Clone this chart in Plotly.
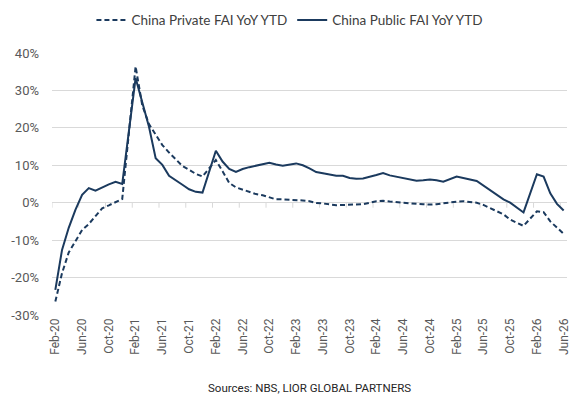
import pandas as pd
import plotly.graph_objects as go

# ---- data -------------------------------------------------------------
months = pd.date_range("2020-02-01", "2026-06-01", freq="MS").strftime("%b-%y").tolist()

private_fai = [
    -26.4, -18.8, -13.3, -10.2, -7.3, -5.7, -3.7, -1.5, -0.7, 0.2, 1.0,   # Feb-Dec 20
    None,
    36.4, 26.0, 21.0, 18.1, 15.4, 13.4, 11.5, 9.8, 8.8, 7.7, 7.0,          # 21
    None,
    11.4, 8.4, 5.3, 4.1, 3.5, 2.7, 2.3, 2.0, 1.4, 0.9, 0.9,                # 22
    None,
    0.8, 0.6, 0.4, -0.1, -0.2, -0.5, -0.7, -0.6, -0.5, -0.5, -0.4,         # 23
    None,
    0.4, 0.5, 0.3, 0.1, -0.1, -0.2, -0.3, -0.4, -0.5, -0.4, -0.1,         # 24
    None,
    0.3, 0.4, 0.2, 0.0, -0.6, -1.5, -2.3, -3.1, -4.5, -5.3, -6.2,         # 25
    None,
    -2.3, -2.5, -5.0, -6.7, -8.3,                                          # Feb-Jun 26
]

public_fai = [
    -23.3, -12.6, -6.7, -1.9, 2.1, 3.9, 3.2, 4.1, 4.9, 5.6, 5.0,
    None,
    33.3, 26.5, 20.3, 11.9, 10.1, 7.2, 6.1, 4.8, 3.6, 2.9, 2.7,
    None,
    13.9, 11.0, 9.0, 8.2, 9.0, 9.5, 9.9, 10.3, 10.7, 10.2, 9.9,
    None,
    10.5, 10.0, 9.2, 8.2, 7.9, 7.5, 7.2, 7.2, 6.6, 6.4, 6.5,
    None,
    7.4, 7.9, 7.3, 6.9, 6.6, 6.2, 5.9, 6.0, 6.2, 6.0, 5.6,
    None,
    7.0, 6.5, 6.2, 5.8, 4.6, 3.3, 2.1, 0.9, 0.0, -1.2, -2.6,
    None,
    7.6, 7.0, 2.5, -0.3, -2.1,
]

tick_labels = months[::4]
y_ticks = [-30, -20, -10, 0, 10, 20, 30, 40]
y_tick_text = [f"{v}%" for v in y_ticks]

series_names = ["China Private FAI YoY YTD", "China Public FAI YoY YTD"]
source_text = "Sources: NBS, LIOR GLOBAL PARTNERS"

# ---- style ------------------------------------------------------------
NAVY = "#1B3A5E"
GRID = "#D9D9D9"
LABEL = "#595959"

fig = go.Figure()
fig.add_trace(go.Scatter(
    x=months, y=private_fai, name=series_names[0], mode="lines",
    connectgaps=True, line=dict(color=NAVY, width=2, dash="5px,3px"),
))
fig.add_trace(go.Scatter(
    x=months, y=public_fai, name=series_names[1], mode="lines",
    connectgaps=True, line=dict(color=NAVY, width=2),
))

# small tick marks on the 0% line at category boundaries (Excel style)
for i in range(0, len(months) + 1, 4):
    fig.add_shape(type="line", xref="x", yref="y", x0=i - 0.5, x1=i - 0.5,
                  ysizemode="pixel", yanchor=0, y0=0, y1=-5,
                  line=dict(color=GRID, width=1), layer="below")

fig.update_layout(
    width=588, height=400,
    margin=dict(l=52, r=21, t=53, b=85, autoexpand=False),
    paper_bgcolor="white", plot_bgcolor="white",
    showlegend=True,
    legend=dict(orientation="h", x=0.462, xanchor="center", y=1.125, yanchor="middle",
                font=dict(family="Lato", size=13.5, color="#404040"),
                itemwidth=30, tracegroupgap=0),
    font=dict(family="Roboto", color=LABEL),
    annotations=[dict(text=source_text, xref="paper", yref="paper", x=0.5, y=-0.278,
                      xanchor="center", yanchor="middle", showarrow=False,
                      font=dict(family="Roboto", size=11.5, color="#262626"))],
)
fig.update_xaxes(
    type="category", range=[-0.5, len(months) - 0.5],
    tickmode="array", tickvals=tick_labels, ticktext=tick_labels,
    tickangle=-90, tickfont=dict(family="Roboto", size=12, color=LABEL),
    showgrid=False, showline=False, zeroline=False, ticks="", ticklabelstandoff=0,
)
fig.update_yaxes(
    range=[-30, 40], tickmode="array", tickvals=y_ticks, ticktext=y_tick_text,
    tickfont=dict(family="Roboto", size=13, color=LABEL),
    showgrid=True, gridcolor=GRID, gridwidth=1, zeroline=False, showline=False,
    ticks="", ticklabelstandoff=12,
)

fig.write_html("out.html")
